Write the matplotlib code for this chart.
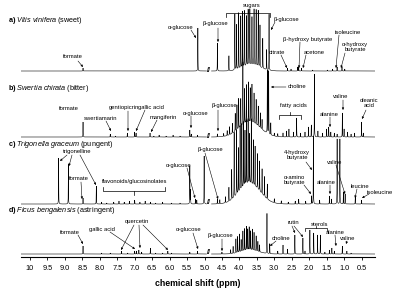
import numpy as np
import matplotlib
matplotlib.use("Agg")
import matplotlib.pyplot as plt

plt.rcParams['font.family'] = ['Liberation Sans', 'DejaVu Sans']
plt.rcParams['mathtext.fontset'] = 'custom'
plt.rcParams['mathtext.rm'] = 'Liberation Sans'
plt.rcParams['mathtext.it'] = 'Liberation Sans:italic'
plt.rcParams['mathtext.bf'] = 'Liberation Sans:bold'

# ---------------- data ----------------
tick_values = [10, 9.5, 9.0, 8.5, 8.0, 7.5, 7.0, 6.5, 6.0, 5.5, 5.0, 4.5, 4.0, 3.5, 3.0, 2.5, 2.0, 1.5, 1.0, 0.5]
tick_labels = ["10", "9.5", "9.0", "8.5", "8.0", "7.5", "7.0", "6.5", "6.0", "5.5", "5.0", "4.5",
               "4.0", "3.5", "3.0", "2.5", "2.0", "1.5", "1.0", "0.5"]

panel_letters = ["a)", "b)", "c)", "d)"]
species = ["Vitis vinifera", "Swertia chirata", "Trigonella graceum", "Ficus bengalensis"]
tastes = ["(sweet)", "(bitter)", "(pungent)", "(astringent)"]

# a) Vitis vinifera : peak shifts (ppm) and intensities (a.u.)
a_shift = [8.48, 5.19, 4.63, 4.30,
           4.13, 4.08, 4.02, 3.96, 3.91, 3.86, 3.80, 3.75, 3.70, 3.64, 3.58, 3.52, 3.46, 3.41, 3.33, 3.22, 3.15,
           2.62, 2.52, 2.33, 2.30, 2.22, 1.90, 1.48, 1.33, 1.20, 1.06, 0.98]
a_height = [3, 43, 28, 15,
            56, 45, 56, 52, 56, 56, 50, 56, 56, 48, 56, 56, 56, 42, 30, 20, 56,
            3, 2, 4, 4, 3, 1, 1, 2, 4, 4, 2]
a_hump = [3.65, 6, 0.25]

# b) Swertia chirata
b_shift = [8.48, 7.70, 7.55, 7.21, 7.00, 6.96, 6.56, 6.45, 6.30, 6.10, 5.90, 5.70, 5.42, 5.38, 5.20, 4.63,
           4.45, 4.35, 4.28, 4.20, 4.12, 4.07, 4.02, 3.96, 3.90, 3.85, 3.80, 3.74, 3.69, 3.64, 3.58, 3.52,
           3.46, 3.40, 3.35, 3.20, 3.16, 3.10, 3.00,
           2.90, 2.75, 2.65, 2.58, 2.45, 2.36, 2.25, 2.12, 2.02, 1.94, 1.85, 1.75, 1.62, 1.50, 1.44, 1.38,
           1.28, 1.20, 1.05, 1.00, 0.90, 0.80, 0.70, 0.50, 0.45]
b_height = [15, 3, 1, 4, 5, 4, 4, 1, 2, 1, 2, 1, 7, 3, 2, 3,
            3, 5, 8, 10, 18, 25, 30, 28, 63, 35, 38, 40, 34, 38, 30, 25,
            20, 15, 10, 63, 63, 12, 3,
            3, 4, 6, 8, 5, 19, 4, 5, 10, 12, 63, 6, 4, 8, 10, 5,
            4, 3, 24, 8, 5, 3, 4, 15, 4]
b_hump = [3.70, 15, 0.30]

# c) Trigonella graceum
c_shift = [9.18, 8.90, 8.48, 8.10, 7.95, 7.80, 7.60, 7.45, 7.30, 7.15, 7.00, 6.85, 6.70, 6.55, 6.40, 6.20,
           5.95, 5.70, 5.42, 5.40, 5.26, 5.22, 5.01, 4.63, 4.56,
           4.40, 4.30, 4.22, 4.15, 4.08, 4.03, 3.98, 3.93, 3.88, 3.84, 3.80, 3.75, 3.71, 3.66, 3.60, 3.55,
           3.48, 3.42, 3.35, 3.28, 3.20,
           3.00, 2.80, 2.60, 2.40, 2.30, 2.10, 1.93, 1.88, 1.70, 1.42, 1.36, 1.20, 1.12, 1.02, 0.97, 0.68, 0.50]
c_height = [46, 40, 6, 18, 2, 1, 2, 3, 2, 3, 4, 2, 3, 2, 1, 2,
            1, 1, 38, 14, 5, 4, 48, 5, 4,
            6, 14, 30, 65, 65, 45, 65, 65, 65, 55, 65, 65, 50, 65, 45, 40,
            35, 30, 25, 20, 15,
            4, 3, 2, 3, 5, 3, 8, 68, 4, 8, 5, 65, 65, 12, 10, 7, 4]
c_hump = [3.70, 20, 0.30]

# d) Ficus bengalensis
d_shift = [8.48, 7.95, 7.70, 7.38, 7.20, 7.00, 6.95, 6.88, 6.80, 6.55, 6.40, 6.20, 6.05, 5.95, 5.42, 5.20, 4.50,
           4.25, 4.18, 4.10, 4.05, 4.00, 3.95, 3.90, 3.85, 3.80, 3.76, 3.72, 3.68, 3.63, 3.58, 3.52, 3.47,
           3.42, 3.21, 3.13, 2.90, 2.75, 2.62, 2.41, 2.18, 2.12, 1.98, 1.87, 1.76, 1.68,
           1.55, 1.42, 1.35, 1.28, 1.05, 0.92, 0.80]
d_height = [8, 1, 1, 3, 1, 3, 3, 4, 2, 6, 1, 1, 3, 1, 2, 3, 2,
            4, 7, 14, 16, 18, 12, 20, 22, 24, 21, 23, 19, 21, 18, 15, 10,
            7, 40, 10, 3, 9, 5, 19, 16, 3, 24, 21, 19, 19,
            2, 4, 6, 3, 8, 3, 1]
d_hump = [3.70, 4, 0.25]

# ---------------- layout helpers ----------------
X0, SCALE, AXIS_PX = 30.0, 34.9, 257.0

def xp(x):
    return 10 - (x - X0) / SCALE

def yp(y):
    return AXIS_PX - y

baselines_px = [71, 137, 204, 254]
title_y_px = [20, 88, 145, 211]

fig = plt.figure(figsize=(4, 3), dpi=100)
ax = fig.add_axes([21 / 400, (300 - AXIS_PX) / 300, (375 - 21) / 400, AXIS_PX / 300])
ax.set_xlim(xp(21), xp(375))
ax.set_ylim(0, AXIS_PX)

grid = np.linspace(xp(375), xp(21), 9000)
all_shifts = np.concatenate([a_shift, b_shift, c_shift, d_shift])
grid = np.unique(np.concatenate([grid, all_shifts]))
W = 0.003

def spectrum(shifts, heights, hump):
    s = np.zeros_like(grid)
    for p, h in zip(shifts, heights):
        s += h * W ** 2 / ((grid - p) ** 2 + W ** 2)
    c, h, sw = hump
    s += h * np.exp(-0.5 * ((grid - c) / sw) ** 2)
    return s

spectra = [(a_shift, a_height, a_hump), (b_shift, b_height, b_hump),
           (c_shift, c_height, c_hump), (d_shift, d_height, d_hump)]
brk_lo, brk_hi = xp(211.5), xp(206.5)
for (sh, hh, hu), bpx in zip(spectra, baselines_px):
    y = yp(bpx) + spectrum(sh, hh, hu)
    y = np.where((grid > brk_lo) & (grid < brk_hi), np.nan, y)
    ax.plot(grid, y, color='black', lw=0.4, solid_joinstyle='miter')
    ax.text(xp(209), yp(bpx - 1), "//", fontsize=5, ha='center', va='center', fontweight='bold')

# titles
for L, sp, t, ty in zip(panel_letters, species, tastes, title_y_px):
    sp_m = sp.replace(" ", r"\ ")
    ax.text(xp(8), yp(ty), rf"$\mathbf{{{L}}}$ $\mathit{{{sp_m}}}$ {t}", fontsize=5.2,
            ha='left', va='center', clip_on=False)

FS = 4.2
def label(s, x, y, **kw):
    ax.text(xp(x), yp(y), s, fontsize=FS, ha='center', va='center', linespacing=1.0, **kw)

def arrow(x1, y1, x2, y2):
    ax.annotate('', xy=(xp(x2), yp(y2)), xytext=(xp(x1), yp(y1)),
                arrowprops=dict(arrowstyle='-|>', lw=0.4, color='black', mutation_scale=3,
                                shrinkA=0, shrinkB=0))

def bracket(x1, x2, y, tip, end):
    ax.plot([xp(x1), xp(x1), xp(x2), xp(x2)], [yp(end), yp(y), yp(y), yp(end)], color='black', lw=0.5)
    xm = (x1 + x2) / 2
    ax.plot([xp(xm), xp(xm)], [yp(y), yp(tip)], color='black', lw=0.5)

# panel a annotations
label("formate", 73, 57); arrow(78, 61, 83, 67)
label("α-glucose", 181, 27); arrow(191, 30, 196, 38)
label("β-glucose", 215, 24); arrow(218, 28, 218, 42)
label("sugars", 252, 5); bracket(226, 270, 13, 10, 17)
label("β-glucose", 286, 20); arrow(275, 22, 271, 30)
label("citrate", 277, 52); arrow(281, 55, 287, 68)
label("β-hydroxy butyrate", 308, 39); arrow(300, 42, 299, 68)
label("acetone", 314, 52); arrow(306, 55, 303, 68)
label("isoleucine", 348, 32); arrow(339, 35, 336, 68)
label("α-hydroxy\nbutyrate", 355, 47); arrow(345, 53, 341, 68)

# panel b annotations
label("formate", 69, 108)
label("swertiamarin", 101, 118); arrow(106, 121, 111, 131)
label("gentiopicrin", 124, 108); arrow(128, 111, 128, 131)
label("gallic acid", 151, 107); arrow(145, 110, 136, 131)
label("mangiferin", 163, 117); arrow(157, 120, 151, 132)
label("α-glucose", 196, 113); arrow(191, 116, 191, 128)
label("β-glucose", 224, 106); arrow(218, 110, 218, 131)
ax.annotate('', xy=(xp(271), yp(87)), xytext=(xp(286), yp(87)),
            arrowprops=dict(arrowstyle='-|>', lw=0.4, color='black', mutation_scale=3, shrinkA=0, shrinkB=0))
label("choline", 297, 87)
label("fatty acids", 293, 106); bracket(279, 301, 115, 112, 119)
label("valine", 341, 97); arrow(343, 100, 343, 110)
label("alanine", 329, 114); arrow(330, 117, 330, 127)
label("oleanic\nacid", 369, 103); arrow(366, 110, 362, 119)

# panel c annotations
label("trigonelline", 77, 152)
arrow(67, 155, 60, 161); arrow(72, 155, 69, 166); arrow(80, 155, 96, 185)
label("formate", 79, 178); arrow(81, 182, 82, 199)
label("flavonoids/glucosinolates", 135, 182); bracket(103, 165, 191, 195, 187)
label("α-glucose", 179, 165); arrow(187, 168, 195, 198)
label("β-glucose", 210, 150); arrow(205, 153, 218, 199)
label("4-hydroxy\nbutyrate", 297, 155); arrow(306, 162, 312, 170)
label("α-amino\nbutyrate", 294, 180); arrow(304, 185, 311, 194)
label("alanine", 326, 182); arrow(330, 185, 330, 194)
label("valine", 335, 162); arrow(336, 165, 345, 194)
label("leucine", 360, 186); arrow(357, 189, 355, 198)
label("isoleucine", 380, 192); arrow(369, 194, 362, 198)

# panel d annotations
label("formate", 70, 232); arrow(78, 235, 83, 244)
label("gallic acid", 102, 229); arrow(110, 232, 135, 249)
label("quercetin", 137, 222)
arrow(134, 225, 121, 250); arrow(139, 225, 140, 248); arrow(143, 225, 168, 250)
label("α-glucose", 189, 230); arrow(193, 233, 198, 249)
label("β-glucose", 220, 236); arrow(222, 239, 222, 251)
label("choline", 281, 238); arrow(276, 241, 270, 246)
label("rutin", 293, 223); arrow(292, 226, 295, 233); arrow(294, 226, 303, 237)
label("sterols", 320, 224); bracket(305, 327, 228, 226, 231)
label("alanine", 335, 232); arrow(335, 235, 336, 246)
label("valine", 348, 238); arrow(347, 241, 346, 244)

# axis
for s in ['top', 'left', 'right']:
    ax.spines[s].set_visible(False)
ax.spines['bottom'].set_linewidth(0.8)
ax.set_yticks([])
ax.set_xticks(tick_values)
ax.set_xticklabels(tick_labels, fontsize=5.3)
ax.tick_params(axis='x', length=2, width=0.6, pad=3.5, direction='out')
ax.set_xlabel("chemical shift (ppm)", fontsize=6.3, fontweight='bold', labelpad=5)

fig.savefig("out.png", dpi=100)
